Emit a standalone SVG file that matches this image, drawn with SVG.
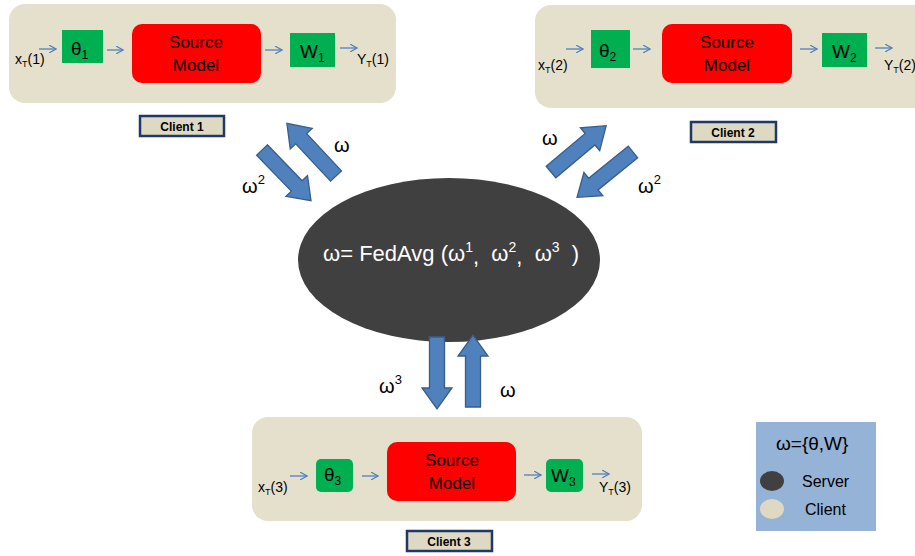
<svg xmlns="http://www.w3.org/2000/svg" width="915" height="556" viewBox="0 0 915 556">
<defs>
<style>
text{font-family:"Liberation Sans",Arial,sans-serif;fill:#000}
.panel{fill:#e5e0cc}
.red{fill:#ff0000}
.grn{fill:#00b050}
.lbl{fill:#ddd9c3;stroke:#1f3864;stroke-width:2.5}
.lt{font-size:12px;font-weight:bold;text-anchor:middle}
.sm{font-size:17px;text-anchor:middle}
.io{font-size:14px}
.par{font-size:19px}
.om{font-size:20px}
.thin{stroke:#4f81bd;stroke-width:1.3;fill:none;marker-end:url(#ah)}
.blk{fill:#4f81bd;stroke:#385d8a;stroke-width:1.3}
</style>
<marker id="ah" viewBox="0 0 10 10" refX="9" refY="5" markerWidth="8" markerHeight="8" markerUnits="userSpaceOnUse" orient="auto">
<path d="M0,0 L9,5 L0,10" fill="none" stroke="#4f81bd" stroke-width="1.6"/>
</marker>
<path id="ba" d="M0,-7.5 L51,-7.5 L51,-15 L72,0 L51,15 L51,7.5 L0,7.5 Z"/>
</defs>
<rect width="915" height="556" fill="#fff"/>

<g id="client1">
<rect class="panel" x="9" y="4" width="387" height="99" rx="16"/>
<rect class="grn" x="62" y="30" width="41" height="33"/>
<text class="par" x="71" y="55">θ<tspan font-size="12" dy="4">1</tspan></text>
<rect class="red" x="132" y="24" width="129" height="59" rx="10"/>
<text class="sm" x="196" y="48">Source</text>
<text class="sm" x="196" y="71">Model</text>
<rect class="grn" x="290" y="33" width="45" height="34"/>
<text class="par" x="300" y="58">W<tspan font-size="12" dy="4">1</tspan></text>
<text class="io" x="15" y="64">x<tspan font-size="9" dy="3">T</tspan><tspan dy="-3">(1)</tspan></text>
<text class="io" x="357" y="64">Y<tspan font-size="9" dy="3">T</tspan><tspan dy="-3">(1)</tspan></text>
<path class="thin" d="M39,49 H56"/>
<path class="thin" d="M107,50 H123"/>
<path class="thin" d="M265,50 H282"/>
<path class="thin" d="M340,48 H357"/>
</g>
<g id="client1-label">
<rect class="lbl" x="140" y="116" width="84" height="20"/>
<text class="lt" x="182" y="131">Client 1</text>
</g>

<g id="client2">
<rect class="panel" x="535" y="5" width="400" height="103" rx="16"/>
<rect class="grn" x="591" y="30" width="39" height="38"/>
<text class="par" x="599" y="57">θ<tspan font-size="12" dy="4">2</tspan></text>
<rect class="red" x="662" y="24" width="130" height="59" rx="10"/>
<text class="sm" x="727" y="48">Source</text>
<text class="sm" x="727" y="71">Model</text>
<rect class="grn" x="822" y="33" width="45" height="34"/>
<text class="par" x="832" y="58">W<tspan font-size="12" dy="4">2</tspan></text>
<text class="io" x="538" y="70">x<tspan font-size="9" dy="3">T</tspan><tspan dy="-3">(2)</tspan></text>
<text class="io" x="884" y="70">Y<tspan font-size="9" dy="3">T</tspan><tspan dy="-3">(2)</tspan></text>
<path class="thin" d="M566,49 H583"/>
<path class="thin" d="M633,49 H650"/>
<path class="thin" d="M800,49 H817"/>
<path class="thin" d="M875,48 H892"/>
</g>
<g id="client2-label">
<rect class="lbl" x="691" y="122" width="85" height="20"/>
<text class="lt" x="733" y="137">Client 2</text>
</g>

<g id="server">
<ellipse cx="449" cy="260" rx="151" ry="82" fill="#404040"/>
<text x="323" y="261" font-size="22" style="fill:#fff">ω= FedAvg (ω<tspan font-size="14" dy="-9">1</tspan><tspan dy="12">,</tspan><tspan dy="-3">&#160; ω</tspan><tspan font-size="14" dy="-9">2</tspan><tspan dy="12">,</tspan><tspan dy="-3">&#160; ω</tspan><tspan font-size="14" dy="-9">3</tspan><tspan dy="9">&#160; )</tspan></text>
</g>

<g id="client3">
<rect class="panel" x="252" y="417" width="390" height="104" rx="16"/>
<rect class="grn" x="316" y="459" width="37" height="33" rx="5"/>
<text class="par" x="324" y="481">θ<tspan font-size="12" dy="4">3</tspan></text>
<rect class="red" x="387" y="442" width="129" height="59" rx="10"/>
<text class="sm" x="452" y="466">Source</text>
<text class="sm" x="452" y="489">Model</text>
<rect class="grn" x="546" y="459" width="37" height="33" rx="5"/>
<text class="par" x="551" y="482">W<tspan font-size="12" dy="4">3</tspan></text>
<text class="io" x="258" y="492">x<tspan font-size="9" dy="3">T</tspan><tspan dy="-3">(3)</tspan></text>
<text class="io" x="599" y="492">Y<tspan font-size="9" dy="3">T</tspan><tspan dy="-3">(3)</tspan></text>
<path class="thin" d="M290,476 H307"/>
<path class="thin" d="M362,476 H378"/>
<path class="thin" d="M524,475 H541"/>
<path class="thin" d="M592,474 H609"/>
</g>
<g id="client3-label">
<rect class="lbl" x="407" y="531" width="85" height="20"/>
<text class="lt" x="449" y="546">Client 3</text>
</g>

<g id="connectors">
<use href="#ba" class="blk" transform="translate(262,150) rotate(46) scale(0.98,1)"/>
<use href="#ba" class="blk" transform="translate(336,176) rotate(-133)"/>
<use href="#ba" class="blk" transform="translate(551,172) rotate(-40)"/>
<use href="#ba" class="blk" transform="translate(633,152) rotate(141)"/>
<use href="#ba" class="blk" transform="translate(437,337) rotate(90)"/>
<use href="#ba" class="blk" transform="translate(473,407) rotate(-90)"/>
<text class="om" x="334" y="152">ω</text>
<text class="om" x="242" y="193">ω<tspan font-size="13" dy="-9">2</tspan></text>
<text class="om" x="542" y="145">ω</text>
<text class="om" x="638" y="193">ω<tspan font-size="13" dy="-9">2</tspan></text>
<text class="om" x="379" y="393">ω<tspan font-size="13" dy="-9">3</tspan></text>
<text class="om" x="500" y="397">ω</text>
</g>

<g id="legend">
<rect x="756" y="422" width="120" height="109" fill="#95b3d7"/>
<text x="776" y="450" font-size="19">ω={θ,W}</text>
<ellipse cx="772" cy="481" rx="12" ry="10" fill="#404040"/>
<text x="802" y="487" font-size="16">Server</text>
<ellipse cx="772" cy="509" rx="12" ry="10" fill="#ddd9c3"/>
<text x="805" y="515" font-size="16">Client</text>
</g>
</svg>
